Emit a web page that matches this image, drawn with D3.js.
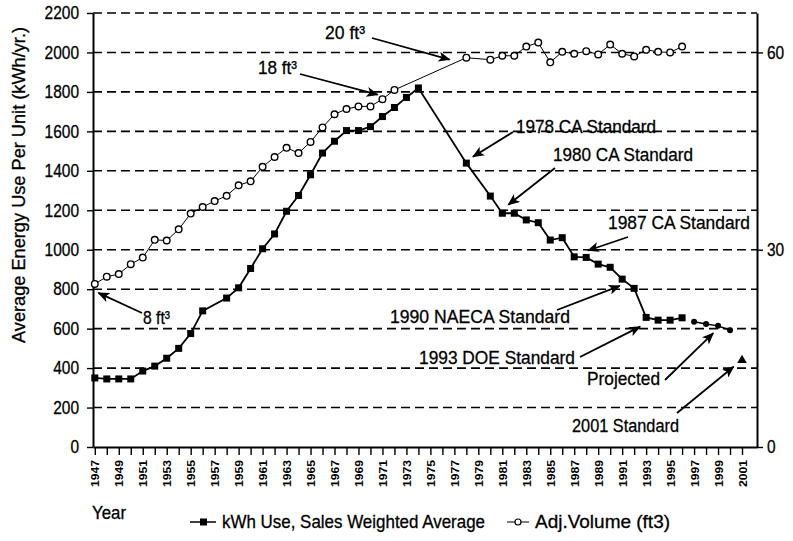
<!DOCTYPE html>
<html>
<head>
<meta charset="utf-8">
<script src="https://cdn.jsdelivr.net/npm/d3@7"></script>
<style>
  body { margin: 0; background: #fff; }
  svg { display: block; font-family: 'Liberation Sans', Arial, sans-serif; }
  svg text { stroke: #000; stroke-width: 0.3; }
  .grid line { stroke: #000; stroke-width: 1.6; stroke-dasharray: 9 5; }
  .axis path, .axis line { stroke: #000; }
  .axis path { stroke-width: 2; }
  .axis line { stroke-width: 1.4; }
</style>
</head>
<body>
<svg class="chart" width="793" height="541"></svg>
<script>
// kWh use, sales weighted average
const kwhYears = [1947, 1948, 1949, 1950, 1951, 1952, 1953, 1954, 1955, 1956, 1958, 1959, 1960, 1961, 1962, 1963,
  1964, 1965, 1966, 1967, 1968, 1969, 1970, 1971, 1972, 1973, 1974, 1978, 1980, 1981, 1982, 1983, 1984, 1985,
  1986, 1987, 1988, 1989, 1990, 1991, 1992, 1993, 1994, 1995, 1996];
const kwhValues = [350, 345, 345, 345, 385, 410, 450, 500, 575, 690, 755, 807, 905, 1005, 1080, 1195,
  1275, 1380, 1490, 1550, 1604, 1604, 1624, 1675, 1721, 1772, 1820, 1439, 1272, 1185, 1185, 1151, 1137, 1049,
  1061, 964, 961, 927, 911, 851, 804, 657, 643, 643, 655];

// adjusted volume (ft3), right axis
const volYears = [1947, 1948, 1949, 1950, 1951, 1952, 1953, 1954, 1955, 1956, 1957, 1958, 1959, 1960, 1961, 1962,
  1963, 1964, 1965, 1966, 1967, 1968, 1969, 1970, 1971, 1972, 1978, 1980, 1981, 1982, 1983, 1984, 1985, 1986,
  1987, 1988, 1989, 1990, 1991, 1992, 1993, 1994, 1995, 1996];
const volValues = [24.8, 25.9, 26.3, 27.8, 28.8, 31.5, 31.4, 33.1, 35.5, 36.5, 37.4, 38.2, 39.8, 40.4, 42.6, 44.1,
  45.5, 44.7, 46.4, 48.6, 50.6, 51.4, 51.8, 51.8, 52.9, 54.3, 59.2, 58.9, 59.5, 59.5, 60.9, 61.5, 58.5, 60.1,
  59.8, 60.2, 59.7, 61.2, 59.8, 59.4, 60.4, 60.1, 60.0, 60.9];

// projected values and the 2001 standard
const projYears = [1997, 1998, 1999, 2000];
const projValues = [635, 623, 614, 592];
const stdYears = [2001];
const stdValues = [440];

const leftTicks = [0, 200, 400, 600, 800, 1000, 1200, 1400, 1600, 1800, 2000, 2200];
const rightTicks = [0, 30, 60];
const tickYears = d3.range(1947, 2002);

// callouts: text, text box (px), arrow start (px), arrow target (year, kWh)
const notes = [
  { text: '20 ft³', x: 325, y: 39, w: 40, from: [372, 38], to: [1976.6, 1964] },
  { text: '18 ft³', x: 258, y: 74, w: 39, from: [300, 74], to: [1970.6, 1786] },
  { text: '8 ft³', x: 143, y: 324, w: 27, from: [142, 313], to: [1947.3, 781] },
  { text: '1978 CA Standard', x: 516, y: 133, w: 140, from: [513, 132], to: [1978.55, 1471] },
  { text: '1980 CA Standard', x: 553, y: 161, w: 140, from: [555, 168], to: [1981.5, 1228] },
  { text: '1987 CA Standard', x: 608, y: 229, w: 142, from: [628, 237], to: [1988.15, 996] },
  { text: '1990 NAECA Standard', x: 390, y: 323, w: 180, from: [557, 310], to: [1990.8, 817] },
  { text: '1993 DOE Standard', x: 419, y: 364, w: 156, from: [580, 357], to: [1992.5, 610] },
  { text: 'Projected', x: 587, y: 385, w: 73, from: [665, 380], to: [1998.6, 577] },
  { text: '2001 Standard', x: 572, y: 432, w: 107, from: [677, 413], to: [2000.3, 407] }
];

const startApp = () => {
  const plot = { left: 93, right: 757, top: 13, bottom: 447 };
  const x = d3.scaleLinear().domain([1946.85, 2002.25]).range([plot.left, plot.right]);
  const y = d3.scaleLinear().domain([0, 2200]).range([plot.bottom, plot.top]);
  const yR = d3.scaleLinear().domain([0, 66]).range([plot.bottom, plot.top]);

  const svg = d3.select('.chart');

  svg.append('defs').append('marker')
    .attr('id', 'arrow')
    .attr('markerUnits', 'userSpaceOnUse')
    .attr('viewBox', '0 0 12 10')
    .attr('markerWidth', 13)
    .attr('markerHeight', 10)
    .attr('refX', 11)
    .attr('refY', 5)
    .attr('orient', 'auto')
    .append('path')
    .attr('d', 'M0,0 L12,5 L0,10 L3,5 z')
    .attr('fill', '#000');

  // dashed gridlines
  svg.append('g')
    .attr('class', 'grid')
    .selectAll('line')
    .data(leftTicks.filter(d => d > 0))
    .enter()
    .append('line')
    .attr('x1', plot.left)
    .attr('x2', plot.right)
    .attr('y1', d => y(d))
    .attr('y2', d => y(d));

  // axes
  const xAxis = svg.append('g')
    .attr('class', 'axis')
    .attr('transform', `translate(0, ${plot.bottom})`)
    .call(d3.axisBottom(x).tickValues(tickYears).tickSize(8).tickSizeOuter(0)
      .tickFormat(d => (d % 2 ? d : '')));
  xAxis.selectAll('text')
    .attr('x', null).attr('y', null).attr('dy', null)
    .attr('text-anchor', 'end')
    .attr('transform', 'translate(4, 13) rotate(-90)')
    .attr('font-weight', 'bold')
    .attr('font-size', 10.5)
    .attr('textLength', d => (d % 2 ? 27 : null))
    .attr('lengthAdjust', 'spacingAndGlyphs')
    .attr('fill', '#000')
    .style('stroke-width', 0);

  const digitWidth = 8.6;
  svg.append('g')
    .attr('class', 'axis')
    .attr('transform', `translate(${plot.left}, 0)`)
    .call(d3.axisLeft(y).tickValues(leftTicks).tickFormat(d3.format('d'))
      .tickSize(6).tickPadding(8).tickSizeOuter(0))
    .selectAll('text')
    .attr('font-size', 18)
    .attr('font-family', 'inherit')
    .attr('textLength', d => String(d).length * digitWidth)
    .attr('lengthAdjust', 'spacingAndGlyphs')
    .attr('fill', '#000');

  svg.append('g')
    .attr('class', 'axis')
    .attr('transform', `translate(${plot.right}, 0)`)
    .call(d3.axisRight(yR).tickValues(rightTicks).tickSize(6).tickPadding(4).tickSizeOuter(0))
    .selectAll('text')
    .attr('font-size', 18)
    .attr('font-family', 'inherit')
    .attr('textLength', d => String(d).length * digitWidth)
    .attr('lengthAdjust', 'spacingAndGlyphs')
    .attr('fill', '#000');

  // adjusted volume series: thin line, open circles
  const vol = volYears.map((yr, i) => ({ yr, v: volValues[i] }));
  const volLine = d3.line().x(d => x(d.yr)).y(d => yR(d.v));
  svg.append('path')
    .datum(vol)
    .attr('d', volLine)
    .attr('fill', 'none')
    .attr('stroke', '#000')
    .attr('stroke-width', 1);
  svg.append('g')
    .selectAll('circle')
    .data(vol)
    .enter()
    .append('circle')
    .attr('cx', d => x(d.yr))
    .attr('cy', d => yR(d.v))
    .attr('r', 3.3)
    .attr('fill', '#fff')
    .attr('stroke', '#000')
    .attr('stroke-width', 1.4);

  // kWh series: solid line, filled squares
  const kwh = kwhYears.map((yr, i) => ({ yr, v: kwhValues[i] }));
  const line = d3.line().x(d => x(d.yr)).y(d => y(d.v));
  svg.append('path')
    .datum(kwh)
    .attr('d', line)
    .attr('fill', 'none')
    .attr('stroke', '#000')
    .attr('stroke-width', 1.8);
  svg.append('g')
    .selectAll('rect')
    .data(kwh)
    .enter()
    .append('rect')
    .attr('x', d => x(d.yr) - 3.5)
    .attr('y', d => y(d.v) - 3.5)
    .attr('width', 7)
    .attr('height', 7)
    .attr('fill', '#000');

  // projected
  const proj = projYears.map((yr, i) => ({ yr, v: projValues[i] }));
  svg.append('path')
    .datum(proj)
    .attr('d', line)
    .attr('fill', 'none')
    .attr('stroke', '#000')
    .attr('stroke-width', 1.5);
  svg.append('g')
    .selectAll('circle')
    .data(proj)
    .enter()
    .append('circle')
    .attr('cx', d => x(d.yr))
    .attr('cy', d => y(d.v))
    .attr('r', 3)
    .attr('fill', '#000');

  // 2001 standard
  svg.append('g')
    .selectAll('path')
    .data(stdYears.map((yr, i) => ({ yr, v: stdValues[i] })))
    .enter()
    .append('path')
    .attr('d', d3.symbol(d3.symbolTriangle, 40))
    .attr('transform', d => `translate(${x(d.yr)}, ${y(d.v)})`)
    .attr('fill', '#000');

  // callouts
  const note = svg.append('g').selectAll('g').data(notes).enter().append('g');
  note.append('line')
    .attr('x1', d => d.from[0])
    .attr('y1', d => d.from[1])
    .attr('x2', d => x(d.to[0]))
    .attr('y2', d => y(d.to[1]))
    .attr('stroke', '#000')
    .attr('stroke-width', 1.8)
    .attr('marker-end', 'url(#arrow)');
  note.append('text')
    .attr('x', d => d.x)
    .attr('y', d => d.y)
    .attr('font-size', 19)
    .attr('textLength', d => d.w)
    .attr('lengthAdjust', 'spacingAndGlyphs')
    .text(d => d.text);

  // axis titles
  svg.append('text')
    .attr('transform', 'translate(25, 185) rotate(-90)')
    .attr('text-anchor', 'middle')
    .attr('font-size', 18)
    .attr('textLength', 316)
    .attr('lengthAdjust', 'spacingAndGlyphs')
    .text('Average Energy Use Per Unit (kWh/yr.)');
  svg.append('text')
    .attr('x', 92)
    .attr('y', 519)
    .attr('font-size', 19)
    .attr('textLength', 34)
    .attr('lengthAdjust', 'spacingAndGlyphs')
    .text('Year');

  // legend
  const legendY = 522;
  const leg = svg.append('g');
  leg.append('line').attr('x1', 190).attr('x2', 216).attr('y1', legendY).attr('y2', legendY)
    .attr('stroke', '#000').attr('stroke-width', 1.5);
  leg.append('rect').attr('x', 200).attr('y', legendY - 3.5).attr('width', 7).attr('height', 7).attr('fill', '#000');
  leg.append('text').attr('x', 222).attr('y', legendY + 6).attr('font-size', 19)
    .attr('textLength', 263).attr('lengthAdjust', 'spacingAndGlyphs')
    .text('kWh Use, Sales Weighted Average');
  leg.append('line').attr('x1', 507).attr('x2', 529).attr('y1', legendY).attr('y2', legendY)
    .attr('stroke', '#000').attr('stroke-width', 1);
  leg.append('circle').attr('cx', 518).attr('cy', legendY).attr('r', 3)
    .attr('fill', '#fff').attr('stroke', '#000').attr('stroke-width', 1.2);
  leg.append('text').attr('x', 535).attr('y', legendY + 6).attr('font-size', 19)
    .attr('textLength', 135).attr('lengthAdjust', 'spacingAndGlyphs')
    .text('Adj.Volume (ft3)');
};

window.onload = startApp;
</script>
</body>
</html>
